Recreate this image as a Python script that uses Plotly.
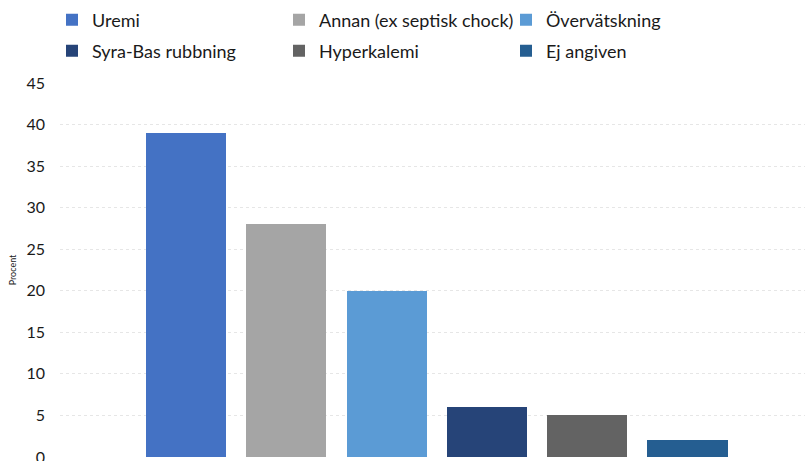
import plotly.graph_objects as go

# Orsak till akut dialys, andel i procent
categories = ["Uremi", "Annan (ex septisk chock)", "Övervätskning",
              "Syra-Bas rubbning", "Hyperkalemi", "Ej angiven"]
values = [39, 28, 20, 6, 5, 2]
colors = ["#4472C4", "#A5A5A5", "#5B9BD5", "#264478", "#636363", "#255E91"]
y_ticks = [0, 5, 10, 15, 20, 25, 30, 35, 40, 45]

FONT = "Lato, Open Sans, sans-serif"
TEXT_COLOR = "#1a1a1a"

fig = go.Figure()
for i, (name, val, col) in enumerate(zip(categories, values, colors)):
    fig.add_trace(go.Bar(
        x=[i], y=[val], name=name, width=0.8,
        marker=dict(color=col, line=dict(width=0)),
        legend="legend" if i < 3 else "legend2",
        hovertemplate="%{y}%<extra>" + name + "</extra>",
    ))

legend_common = dict(
    orientation="h", xref="container", yref="container",
    x=52 / 805, xanchor="left", yanchor="middle",
    entrywidth=182, entrywidthmode="pixels",
    font=dict(family=FONT, size=18, color=TEXT_COLOR),
    bgcolor="rgba(0,0,0,0)", traceorder="normal",
)

fig.update_layout(
    width=805, height=461,
    margin=dict(l=60, r=0, t=83, b=4, autoexpand=False),
    paper_bgcolor="white", plot_bgcolor="white",
    barmode="overlay", bargap=0,
    showlegend=True,
    legend=dict(legend_common, y=1 - 20 / 461),
    legend2=dict(legend_common, y=1 - 51 / 461),
    xaxis=dict(range=[-1.256, 6.17], showticklabels=False, showgrid=False,
               zeroline=False, showline=False, ticks=""),
    yaxis=dict(range=[0, 45], tickvals=y_ticks, showgrid=True,
               gridcolor="#e6e6e6", griddash="dot", gridwidth=1,
               zeroline=False, showline=False, ticks="",
               ticklabelstandoff=14, ticklabeloverflow="allow",
               tickfont=dict(family=FONT, size=16, color=TEXT_COLOR),
               title=dict(text="Procent", standoff=8,
                          font=dict(family=FONT, size=9, color=TEXT_COLOR))),
)

fig.write_html("out.html")
